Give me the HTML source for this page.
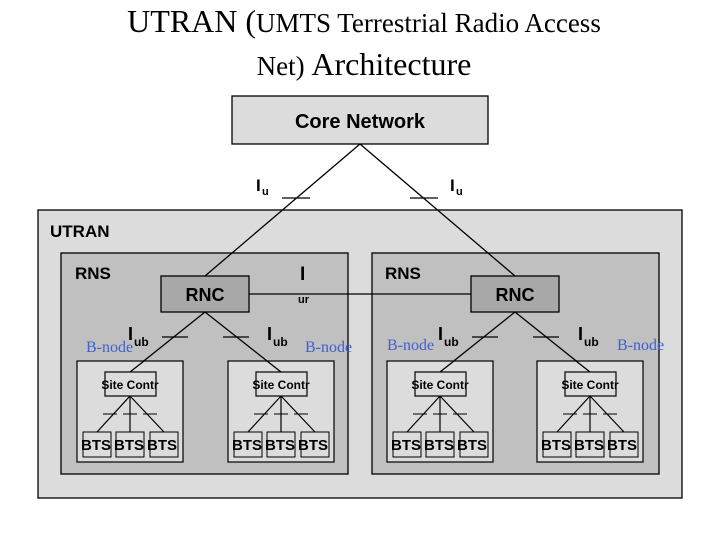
<!DOCTYPE html>
<html><head><meta charset="utf-8"><style>
html,body{margin:0;padding:0;background:#fff;}
svg{display:block;}
.a{font-family:"Liberation Sans",Arial,sans-serif;font-weight:bold;}
.s{font-family:"Liberation Serif",serif;}
.b{font-family:"Liberation Serif",serif;fill:#4060d0;font-size:16px;}
</style></head><body>
<svg width="720" height="540" viewBox="0 0 720 540" xmlns="http://www.w3.org/2000/svg">
<text class="s" x="364" y="32" text-anchor="middle" font-size="27"><tspan font-size="32">UTRAN (</tspan>UMTS Terrestrial Radio Access</text>
<text class="s" x="364" y="75" text-anchor="middle"><tspan font-size="27">Net) </tspan><tspan font-size="32">Architecture</tspan></text>

<rect x="232" y="96" width="256" height="48" fill="#dcdcdc" stroke="#000" stroke-width="1.3"/>
<text class="a" x="360" y="128" text-anchor="middle" font-size="20">Core Network</text>

<rect x="38" y="210" width="644" height="288" fill="#dcdcdc" stroke="#000" stroke-width="1.3"/>
<text class="a" x="50" y="237" font-size="17">UTRAN</text>

<rect x="61" y="253" width="287" height="221" fill="#c0c0c0" stroke="#000" stroke-width="1.3"/>
<rect x="372" y="253" width="287" height="221" fill="#c0c0c0" stroke="#000" stroke-width="1.3"/>
<text class="a" x="75" y="279" font-size="17">RNS</text>
<text class="a" x="385" y="279" font-size="17">RNS</text>

<!-- Iu lines -->
<line x1="360" y1="144" x2="205" y2="276" stroke="#000" stroke-width="1.3"/>
<line x1="360" y1="144" x2="515" y2="276" stroke="#000" stroke-width="1.3"/>
<line x1="282" y1="198" x2="310" y2="198" stroke="#000" stroke-width="1.3"/>
<line x1="410" y1="198" x2="438" y2="198" stroke="#000" stroke-width="1.3"/>
<text class="a" x="256" y="191" font-size="17">I</text><text class="a" x="262" y="195" font-size="11">u</text>
<text class="a" x="450" y="191" font-size="17">I</text><text class="a" x="456" y="195" font-size="11">u</text>

<!-- Iur -->
<line x1="249" y1="294" x2="471" y2="294" stroke="#000" stroke-width="1.3"/>
<text class="a" x="300" y="280" font-size="19">I</text>
<text class="a" x="298" y="303" font-size="11">ur</text>

<rect x="161" y="276" width="88" height="36" fill="#a8a8a8" stroke="#000" stroke-width="1.3"/>
<text class="a" x="205" y="301" text-anchor="middle" font-size="18">RNC</text>
<rect x="471" y="276" width="88" height="36" fill="#a8a8a8" stroke="#000" stroke-width="1.3"/>
<text class="a" x="515" y="301" text-anchor="middle" font-size="18">RNC</text>

<!-- Iub lines -->
<g stroke="#000" stroke-width="1.3">
<line x1="205" y1="312" x2="130" y2="372"/><line x1="205" y1="312" x2="281" y2="372"/>
<line x1="162" y1="337" x2="188" y2="337"/><line x1="223" y1="337" x2="249" y2="337"/>
<line x1="515" y1="312" x2="440" y2="372"/><line x1="515" y1="312" x2="590" y2="372"/>
<line x1="472" y1="337" x2="498" y2="337"/><line x1="533" y1="337" x2="559" y2="337"/>
</g>
<text class="a" x="128" y="340" font-size="18">I</text><text class="a" x="134" y="346" font-size="12">ub</text>
<text class="a" x="267" y="340" font-size="18">I</text><text class="a" x="273" y="346" font-size="12">ub</text>
<text class="a" x="438" y="340" font-size="18">I</text><text class="a" x="444" y="346" font-size="12">ub</text>
<text class="a" x="578" y="340" font-size="18">I</text><text class="a" x="584" y="346" font-size="12">ub</text>
<text class="b" x="86" y="352">B-node</text>
<text class="b" x="305" y="352">B-node</text>
<text class="b" x="387" y="350">B-node</text>
<text class="b" x="617" y="350">B-node</text>

<defs>
<g id="bn">
<rect x="0" y="0" width="106" height="101" fill="#dcdcdc" stroke="#000" stroke-width="1.2"/>
<line x1="53" y1="35" x2="20" y2="71" stroke="#000" stroke-width="1.2"/>
<line x1="53" y1="35" x2="53" y2="71" stroke="#000" stroke-width="1.2"/>
<line x1="53" y1="35" x2="87" y2="71" stroke="#000" stroke-width="1.2"/>
<line x1="26" y1="53" x2="40" y2="53" stroke="#000"/>
<line x1="46" y1="53" x2="60" y2="53" stroke="#000"/>
<line x1="66" y1="53" x2="80" y2="53" stroke="#000"/>
<rect x="28" y="11" width="51" height="24" fill="#dcdcdc" stroke="#000" stroke-width="1.2"/>
<text class="a" x="53" y="28" text-anchor="middle" font-size="12" font-weight="bold">Site Contr</text>
<rect x="6" y="71" width="28" height="25" fill="#dcdcdc" stroke="#000"/>
<rect x="39" y="71" width="28" height="25" fill="#dcdcdc" stroke="#000"/>
<rect x="73" y="71" width="28" height="25" fill="#dcdcdc" stroke="#000"/>
<text class="a" x="4" y="89" font-size="15" font-weight="normal">BTS</text>
<text class="a" x="37" y="89" font-size="15" font-weight="normal">BTS</text>
<text class="a" x="70" y="89" font-size="15" font-weight="normal">BTS</text>
</g>
</defs>
<use href="#bn" x="77" y="361"/>
<use href="#bn" x="228" y="361"/>
<use href="#bn" x="387" y="361"/>
<use href="#bn" x="537" y="361"/>
<!-- redraw iub line tips over bnode box top -->
<g stroke="#000" stroke-width="1.3">
<line x1="144" y1="361" x2="130" y2="372"/><line x1="267" y1="361" x2="281" y2="372"/>
<line x1="454" y1="361" x2="440" y2="372"/><line x1="576" y1="361" x2="590" y2="372"/>
</g>
</svg>
</body></html>
